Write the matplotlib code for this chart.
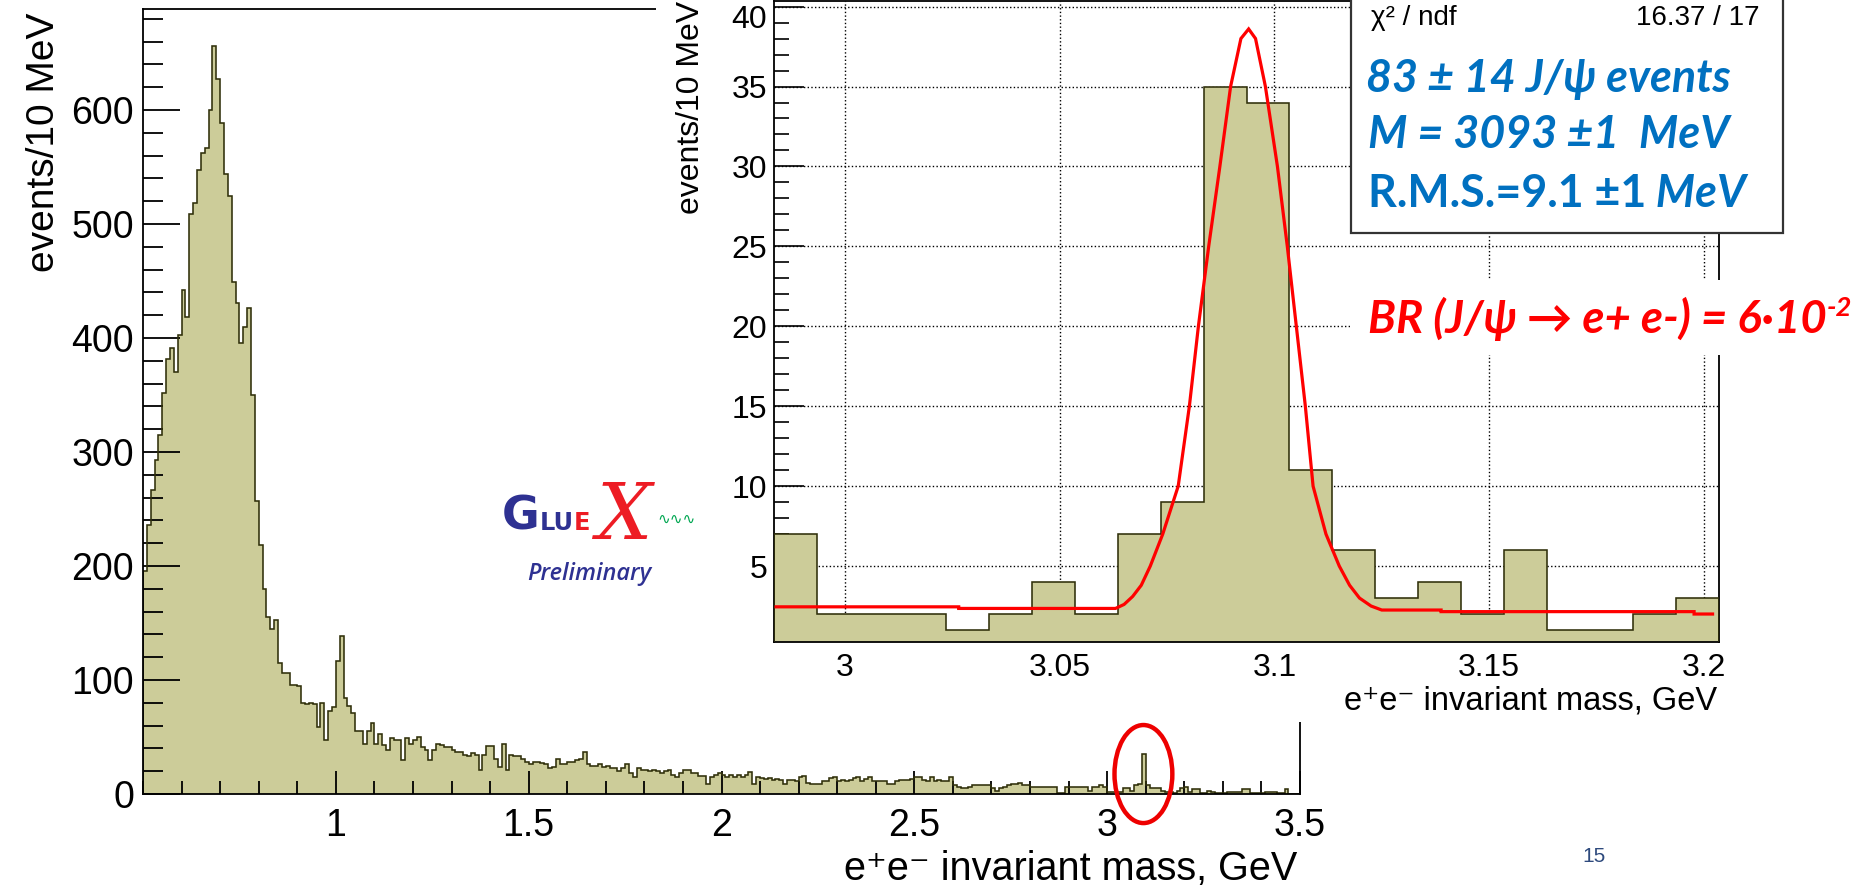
import numpy as np
import matplotlib
matplotlib.use('Agg')
import matplotlib.pyplot as plt
import matplotlib.transforms as mtransforms
from matplotlib.patches import Rectangle, Ellipse
from matplotlib.ticker import MultipleLocator

W, H = 1859, 885
plt.rcParams['font.family'] = ['Liberation Sans', 'DejaVu Sans']

# ---------------- data ----------------
main_lo = 0.5          # GeV, first bin edge
main_bin = 0.01        # GeV, bin width (10 MeV)
main_seg_a = [196, 236, 267, 293, 315, 352, 382, 391, 370, 403,
              442, 418, 509, 518, 547, 562, 567, 600, 656, 627,
              589, 544, 525, 449, 431, 396, 410, 426, 350, 257]
main_seg_b = [218, 180, 155, 145, 153, 115]
main_seg_c = [106, 106, 96, 96, 95, 80, 79, 80, 79, 59,
              80, 47, 73, 76, 117, 139, 84, 77, 71, 55,
              55, 44, 55, 62, 44, 53, 43, 39]
main_seg_d = [49, 47, 47, 30, 49, 44, 47, 50, 41, 39,
              30, 39, 44, 43, 41, 41, 39, 37, 37, 34,
              33, 36, 34, 21, 34, 42, 42, 31, 24, 44,
              21, 34, 33, 33, 31, 28, 26, 28, 28, 27,
              26, 23, 24, 31, 26, 26, 28, 28, 30, 31,
              37, 26, 25, 25, 26, 24, 25, 23, 23, 20,
              23, 26, 18, 15, 23, 21, 21, 20, 21, 20,
              18, 20, 21, 17, 15, 18, 21, 21, 18, 18,
              16, 16, 9, 15, 17, 18, 17, 15, 17, 15,
              17, 15, 17, 19, 9, 15, 14, 13, 14, 12,
              13, 12, 9, 12, 12, 11, 15, 16, 10, 9,
              9, 9, 11, 11, 14, 15, 11, 12, 11]
main_seg_e = [12, 14, 15, 11, 13, 15, 11, 11, 11, 11,
              9, 9, 11, 12, 12, 12, 13, 15, 15, 12,
              11, 15, 11, 12, 11, 11, 15, 8, 6, 5,
              5, 6, 8, 8, 8, 8, 8, 5, 3, 5,
              6, 8, 9, 9, 10, 8, 8, 6, 6, 6,
              6, 6, 6, 6, 1, 1, 6, 6, 6, 6,
              6, 6, 3, 6, 6, 8, 6, 2, 2, 2,
              2, 5, 5, 3, 8, 9, 35, 8, 5, 5,
              5, 3, 2, 2, 1, 3, 5, 6, 2, 4,
              4, 1, 1, 3, 2, 1, 1, 1, 2, 2,
              2, 2, 4, 4, 1, 1, 1, 1, 2, 2,
              2, 1, 1, 4, 0, 0, 0]
main_counts = main_seg_a + main_seg_b + main_seg_c + main_seg_d + main_seg_e

main_xticks = [1, 1.5, 2, 2.5, 3, 3.5]
main_xticklabels = ['1', '1.5', '2', '2.5', '3', '3.5']
main_yticks = [0, 100, 200, 300, 400, 500, 600]
main_yticklabels = ['0', '100', '200', '300', '400', '500', '600']

inset_lo = 2.9835      # GeV, first bin edge of the zoomed histogram
inset_bin = 0.01
inset_counts = [7, 2, 2, 2, 1, 2, 4, 2, 7, 9, 35,
                34, 11, 6, 3, 4, 2, 6, 1, 1, 2, 3]

fit_x = [2.9840, 3.0265, 3.0265, 3.0630, 3.0650, 3.0670, 3.0690, 3.0711,
         3.0740, 3.0776, 3.0802, 3.0823, 3.0847, 3.0873, 3.0898, 3.0922,
         3.0940, 3.0956, 3.0979, 3.1007, 3.1030, 3.1051, 3.1072, 3.1090,
         3.1120, 3.1151, 3.1175, 3.1198, 3.1225, 3.1250, 3.1388, 3.1388,
         3.1977, 3.1977, 3.2020]
fit_y = [2.45, 2.45, 2.35, 2.35, 2.6, 3.1, 3.8, 5.0,
         7.0, 10.0, 15.0, 20.0, 25.0, 30.0, 35.0, 38.0,
         38.6, 38.0, 35.0, 30.0, 25.0, 20.0, 15.0, 10.0,
         7.0, 5.0, 3.8, 3.0, 2.5, 2.25, 2.25, 2.15,
         2.15, 2.0, 2.0]

inset_xticks = [3.0, 3.05, 3.1, 3.15, 3.2]
inset_xticklabels = ['3', '3.05', '3.1', '3.15', '3.2']
inset_yticks = [5, 10, 15, 20, 25, 30, 35, 40]
inset_yticklabels = ['5', '10', '15', '20', '25', '30', '35', '40']

ylabel_text = 'events/10 MeV'
xlabel_text = 'e\u207ae\u207b invariant mass, GeV'
chi2_label = '\u03c7\u00b2 / ndf'
chi2_value = '16.37 / 17'

# ---------------- styling ----------------
FILL = '#CCCC99'
EDGE = '#2F2F0A'
BLUE = '#0070C0'
RED = '#FF0000'


def box(l, t, r, b):
    return [l / W, 1 - b / H, (r - l) / W, (b - t) / H]


def fxy(px, py):
    return px / W, 1 - py / H


fig = plt.figure(figsize=(W / 100, H / 100), dpi=100)
fig.patch.set_facecolor('white')

# ---------------- main histogram ----------------
ax = fig.add_axes(box(143, 9, 1300, 794), zorder=0)
main_edges = main_lo + main_bin * np.arange(len(main_counts) + 1)
ax.stairs(main_counts, main_edges, fill=True, color=FILL, zorder=1)
ax.stairs(main_counts, main_edges, baseline=0, color=EDGE, lw=1.15, zorder=2)
ax.set_xlim(main_edges[0], main_edges[-1])
ax.set_ylim(0, 688.6)
ax.set_xticks(main_xticks)
ax.set_xticklabels(main_xticklabels)
ax.set_yticks(main_yticks)
ax.set_yticklabels(main_yticklabels)
ax.xaxis.set_minor_locator(MultipleLocator(0.1))
ax.yaxis.set_minor_locator(MultipleLocator(20))
ax.tick_params(axis='x', which='major', direction='in', length=16.6, width=1.3,
               labelsize=27, pad=10)
ax.tick_params(axis='x', which='minor', direction='in', length=9.4, width=1.3)
ax.tick_params(axis='y', which='major', direction='in', length=26.6, width=1.3,
               labelsize=27, pad=6.5)
ax.tick_params(axis='y', which='minor', direction='in', length=14.4, width=1.3)
for s in ax.spines.values():
    s.set_linewidth(1.3)

fig.text(*fxy(44, 13), ylabel_text, rotation=90, ha='center', va='top', fontsize=28)
fig.text(*fxy(1297, 880), xlabel_text, ha='right', va='baseline', fontsize=28.5)

# red ellipse around J/psi bin in main plot (data coords)
ell = Ellipse((3.094, 17.5), 0.150, 86, fill=False, edgecolor='#EE0000', lw=3.2,
              clip_on=False, zorder=10)
ax.add_patch(ell)

# ---------------- white cover for inset picture ----------------
cover = Rectangle(fxy(656, 722), (W - 656) / W, 722 / H, transform=fig.transFigure,
                  facecolor='white', edgecolor='none', zorder=1)
fig.add_artist(cover)

# ---------------- inset histogram ----------------
ax2 = fig.add_axes(box(774, 1, 1719, 642), zorder=2)
ax2.set_facecolor('none')
inset_edges = inset_lo + inset_bin * np.arange(len(inset_counts) + 1)
ax2.set_axisbelow(True)
ax2.grid(True, which='major', linestyle=':', color='black', lw=1.0)
ax2.stairs(inset_counts, inset_edges, fill=True, color=FILL, zorder=2)
ax2.stairs(inset_counts, inset_edges, baseline=0, color=EDGE, lw=1.15, zorder=3)
ax2.plot(fit_x, fit_y, color=RED, lw=2.3, zorder=4, solid_joinstyle='miter')
ax2.set_xlim(inset_edges[0], inset_edges[-1])
ax2.set_ylim(0.25, 40.35)
ax2.set_xticks(inset_xticks)
ax2.set_xticklabels(inset_xticklabels)
ax2.set_yticks(inset_yticks)
ax2.set_yticklabels(inset_yticklabels)
ax2.xaxis.set_minor_locator(MultipleLocator(0.01))
ax2.yaxis.set_minor_locator(MultipleLocator(1))
ax2.tick_params(axis='x', which='major', direction='in', length=13.7, width=1.2,
                labelsize=23, pad=8)
ax2.tick_params(axis='x', which='minor', direction='in', length=7.2, width=1.2)
ax2.tick_params(axis='y', which='major', direction='in', length=21.6, width=1.2,
                labelsize=23, pad=5)
ax2.tick_params(axis='y', which='minor', direction='in', length=10.8, width=1.2)
for s in ax2.spines.values():
    s.set_linewidth(1.3)
# keep the top label ("40") inside the picture
top_lab = ax2.yaxis.get_majorticklabels()[-1]
top_lab.set_transform(top_lab.get_transform() +
                      mtransforms.ScaledTranslation(0, -10 / 100, fig.dpi_scale_trans))

fig.text(*fxy(691, 1), ylabel_text, rotation=90, ha='center', va='top', fontsize=23,
         zorder=3)
fig.text(*fxy(1717, 710), xlabel_text, ha='right', va='baseline', fontsize=23.5,
         zorder=3)

# ---------------- stats box ----------------
stat = Rectangle(fxy(1351, 233), (1783 - 1351) / W, 245 / H, transform=fig.transFigure,
                 facecolor='white', edgecolor='#333333', lw=1.6, zorder=5)
fig.add_artist(stat)
fig.text(*fxy(1371, 25), chi2_label, ha='left', va='baseline', fontsize=20, zorder=6)
fig.text(*fxy(1759, 25), chi2_value, ha='right', va='baseline', fontsize=20, zorder=6)

# white band behind BR text
band = Rectangle(fxy(1350, 355), (W - 1350) / W, 75 / H, transform=fig.transFigure,
                 facecolor='white', edgecolor='none', zorder=5)
fig.add_artist(band)

renderer = fig.canvas.get_renderer()
OVFAM = ['Lato', 'DejaVu Sans']


def layout_line(pieces, x0, base, right, size):
    arts = []
    for it in range(2):
        for a in arts:
            a.remove()
        arts = []
        x = x0
        for txt, kw in pieces:
            sc = kw.get('scale', 1.0)
            rise = kw.get('rise', 0)
            t = fig.text(x / W, 1 - (base - rise) / H, txt, fontsize=size * sc,
                         va='baseline', ha='left', family=kw.get('family', OVFAM),
                         fontweight=kw.get('weight', 'bold'),
                         fontstyle=kw.get('style', 'italic'),
                         color=kw['color'], zorder=7)
            bb = t.get_window_extent(renderer)
            x = bb.x1
            arts.append(t)
        if it == 0:
            size = size * (right - x0) / (x - x0)
    return arts


layout_line([('83 \u00b1 14 J/\u03c8 events', dict(color=BLUE))], 1366, 92, 1730, 28)
layout_line([('M = 3093 \u00b11  MeV', dict(color=BLUE))], 1368, 148, 1729, 28)
layout_line([('R.M.S.=9.1 \u00b11', dict(color=BLUE, style='normal')),
             (' MeV', dict(color=BLUE))], 1368, 207, 1746, 28)
layout_line([('BR (J/\u03c8 \u2192 e+ e-) = 6\u00b710', dict(color=RED)),
             ('-2', dict(color=RED, scale=0.6, rise=17))], 1368, 333, 1852, 28)

# ---------------- GlueX logo ----------------
NAVY = '#2E3192'
LRED = '#ED1C24'
glue = layout_line([('G', dict(color=NAVY, family=['DejaVu Sans'], style='normal')),
                    ('LU', dict(color=NAVY, family=['DejaVu Sans'], style='normal',
                                scale=0.52)),
                    ('E', dict(color=LRED, family=['DejaVu Sans'], style='normal',
                               scale=0.52))],
                   502, 530, 590, 30)
xe = glue[-1].get_window_extent(renderer).x1
xt = fig.text((xe + 1) / W, 1 - 539 / H, r'$\mathit{X}$', fontsize=56,
              math_fontfamily='dejavuserif', color=LRED, ha='left', va='baseline',
              zorder=7)
xx = xt.get_window_extent(renderer).x1
fig.text((xx + 1) / W, 1 - 524 / H, '\u223f\u223f\u223f', fontsize=11,
         family=['DejaVu Sans'], color='#00A651', ha='left', va='baseline', zorder=7)
fig.text(*fxy(589, 574), 'Preliminary', fontsize=17, family=['Open Sans', 'DejaVu Sans'],
         style='italic', fontweight='semibold', color=NAVY, ha='center', va='center',
         zorder=7)

# page number
fig.text(*fxy(1594, 857), '15', fontsize=15, color='#2E4A7D', ha='center', va='center')

fig.savefig('out.png', dpi=100)
